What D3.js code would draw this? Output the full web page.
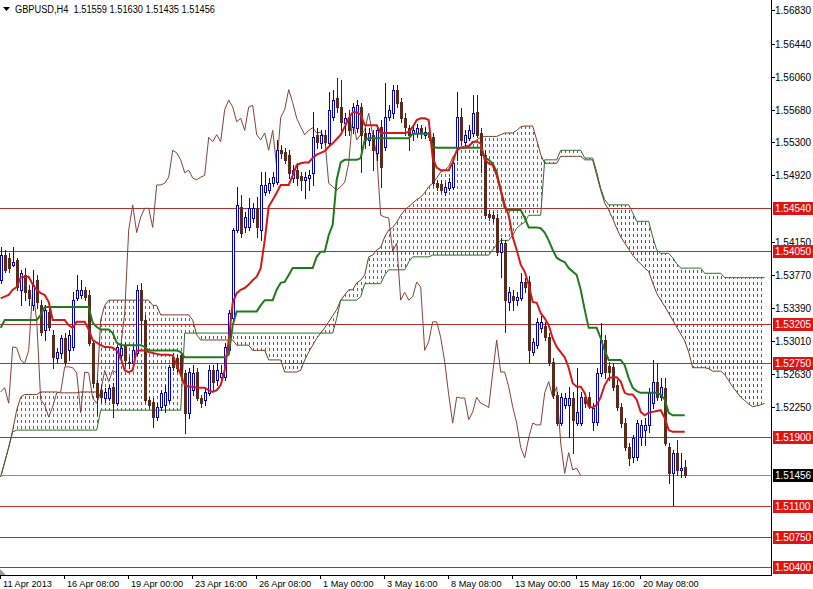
<!DOCTYPE html>
<html><head><meta charset="utf-8">
<script src="https://cdn.jsdelivr.net/npm/d3@7"></script>
<style>
body{margin:0;background:#fff;}
svg{display:block;}
text{font-family:"Liberation Sans",Arial,sans-serif;font-size:10px;}
</style>
</head><body>
<svg id="c" width="813" height="589"></svg>
<script>
const title = "GBPUSD,H4  1.51559 1.51630 1.51435 1.51456";
const dateLabels = ["11 Apr 2013","16 Apr 08:00","19 Apr 00:00","23 Apr 16:00","26 Apr 08:00","1 May 00:00","3 May 16:00","8 May 08:00","13 May 00:00","15 May 16:00","20 May 08:00"];
const dateTickBars = [0,16,32,48,64,80,96,112,128,144,160];
const priceTicks = [1.56830,1.56440,1.56060,1.55680,1.55300,1.54920,1.54150,1.53770,1.53390,1.53010,1.52630,1.52250];
const levels = [1.54540,1.54050,1.53205,1.52750,1.51900,1.51100,1.50750,1.50400];
const lastPrice = 1.51456;
// [open, high, low, close]
const candles = [
[1.5371,1.5409,1.5368,1.5400],[1.5400,1.5406,1.5381,1.5383],[1.5397,1.5402,1.5381,1.5385],[1.5389,1.5409,1.5387,1.5392],[1.5394,1.5397,1.5360,1.5363],
[1.5360,1.5383,1.5342,1.5379],[1.5377,1.5385,1.5348,1.5357],[1.5360,1.5366,1.5342,1.5350],[1.5342,1.5383,1.5337,1.5366],[1.5371,1.5377,1.5339,1.5346],
[1.5342,1.5348,1.5308,1.5311],[1.5314,1.5342,1.5302,1.5337],[1.5334,1.5342,1.5314,1.5317],[1.5308,1.5314,1.5270,1.5282],[1.5281,1.5293,1.5277,1.5288],
[1.5287,1.5308,1.5281,1.5304],[1.5304,1.5310,1.5273,1.5277],[1.5290,1.5314,1.5279,1.5308],[1.5294,1.5357,1.5290,1.5348],[1.5350,1.5377,1.5348,1.5360],
[1.5354,1.5371,1.5350,1.5360],[1.5360,1.5363,1.5348,1.5352],[1.5354,1.5360,1.5296,1.5299],[1.5299,1.5302,1.5248,1.5252],[1.5252,1.5256,1.5215,1.5236],
[1.5244,1.5250,1.5230,1.5236],[1.5235,1.5247,1.5230,1.5242],[1.5235,1.5250,1.5233,1.5247],[1.5248,1.5252,1.5213,1.5229],[1.5229,1.5296,1.5227,1.5294],
[1.5285,1.5299,1.5279,1.5293],[1.5296,1.5300,1.5273,1.5279],[1.5277,1.5282,1.5270,1.5275],[1.5275,1.5296,1.5272,1.5290],[1.5287,1.5366,1.5285,1.5360],
[1.5360,1.5368,1.5300,1.5325],[1.5325,1.5331,1.5230,1.5233],[1.5233,1.5236,1.5224,1.5227],[1.5230,1.5235,1.5202,1.5213],[1.5213,1.5229,1.5210,1.5225],
[1.5225,1.5244,1.5221,1.5241],[1.5227,1.5250,1.5219,1.5242],[1.5233,1.5273,1.5230,1.5271],[1.5282,1.5287,1.5267,1.5271],[1.5281,1.5285,1.5265,1.5270],
[1.5285,1.5288,1.5258,1.5264],[1.5264,1.5267,1.5195,1.5218],[1.5218,1.5270,1.5212,1.5265],[1.5244,1.5273,1.5239,1.5264],[1.5265,1.5270,1.5233,1.5235],
[1.5235,1.5239,1.5225,1.5229],[1.5233,1.5247,1.5227,1.5242],[1.5241,1.5273,1.5239,1.5267],[1.5267,1.5273,1.5244,1.5254],[1.5256,1.5275,1.5250,1.5267],
[1.5259,1.5273,1.5256,1.5264],[1.5259,1.5299,1.5256,1.5294],[1.5290,1.5337,1.5288,1.5333],[1.5327,1.5431,1.5325,1.5429],[1.5429,1.5479,1.5427,1.5458],
[1.5456,1.5469,1.5421,1.5426],[1.5432,1.5450,1.5427,1.5444],[1.5432,1.5466,1.5429,1.5454],[1.5443,1.5460,1.5438,1.5454],[1.5454,1.5467,1.5421,1.5432],
[1.5429,1.5496,1.5417,1.5481],[1.5473,1.5496,1.5469,1.5481],[1.5475,1.5489,1.5472,1.5483],[1.5483,1.5496,1.5480,1.5490],[1.5484,1.5533,1.5482,1.5521],
[1.5521,1.5527,1.5512,1.5518],[1.5519,1.5524,1.5506,1.5510],[1.5516,1.5521,1.5489,1.5495],[1.5489,1.5504,1.5484,1.5498],[1.5498,1.5506,1.5481,1.5489],
[1.5491,1.5496,1.5475,1.5487],[1.5487,1.5496,1.5466,1.5490],[1.5489,1.5498,1.5475,1.5492],[1.5495,1.5565,1.5481,1.5536],[1.5539,1.5547,1.5524,1.5531],
[1.5529,1.5544,1.5524,1.5539],[1.5539,1.5544,1.5527,1.5531],[1.5529,1.5588,1.5527,1.5568],[1.5559,1.5591,1.5556,1.5579],[1.5581,1.5604,1.5565,1.5571],
[1.5571,1.5602,1.5544,1.5554],[1.5553,1.5564,1.5539,1.5558],[1.5559,1.5568,1.5539,1.5544],[1.5548,1.5576,1.5541,1.5571],[1.5547,1.5579,1.5542,1.5573],
[1.5571,1.5576,1.5496,1.5539],[1.5541,1.5547,1.5524,1.5533],[1.5533,1.5547,1.5527,1.5541],[1.5539,1.5544,1.5498,1.5521],[1.5518,1.5550,1.5510,1.5544],
[1.5548,1.5556,1.5479,1.5502],[1.5525,1.5599,1.5521,1.5559],[1.5559,1.5573,1.5556,1.5568],[1.5564,1.5596,1.5558,1.5591],[1.5591,1.5596,1.5571,1.5576],
[1.5577,1.5581,1.5554,1.5558],[1.5558,1.5564,1.5539,1.5548],[1.5547,1.5550,1.5521,1.5539],[1.5541,1.5550,1.5533,1.5544],[1.5541,1.5551,1.5536,1.5547],
[1.5547,1.5550,1.5535,1.5541],[1.5539,1.5548,1.5535,1.5542],[1.5542,1.5547,1.5533,1.5536],[1.5536,1.5541,1.5481,1.5483],[1.5483,1.5487,1.5475,1.5479],
[1.5482,1.5487,1.5473,1.5475],[1.5473,1.5483,1.5469,1.5479],[1.5477,1.5489,1.5475,1.5484],[1.5479,1.5512,1.5476,1.5506],[1.5524,1.5588,1.5510,1.5559],
[1.5559,1.5570,1.5527,1.5533],[1.5531,1.5544,1.5527,1.5539],[1.5535,1.5550,1.5533,1.5544],[1.5541,1.5585,1.5537,1.5564],[1.5565,1.5585,1.5536,1.5539],
[1.5541,1.5547,1.5496,1.5516],[1.5516,1.5521,1.5443,1.5446],[1.5447,1.5452,1.5441,1.5444],[1.5446,1.5450,1.5438,1.5443],[1.5443,1.5447,1.5400,1.5404],
[1.5404,1.5420,1.5375,1.5414],[1.5414,1.5417,1.5311,1.5348],[1.5346,1.5363,1.5337,1.5357],[1.5353,1.5360,1.5337,1.5348],[1.5348,1.5357,1.5342,1.5352],
[1.5350,1.5379,1.5348,1.5369],[1.5369,1.5374,1.5357,1.5363],[1.5369,1.5376,1.5275,1.5290],[1.5288,1.5304,1.5285,1.5300],[1.5296,1.5327,1.5293,1.5323],
[1.5316,1.5330,1.5311,1.5323],[1.5318,1.5323,1.5302,1.5305],[1.5305,1.5310,1.5273,1.5277],[1.5277,1.5281,1.5235,1.5239],[1.5239,1.5242,1.5204,1.5206],
[1.5206,1.5241,1.5204,1.5236],[1.5227,1.5241,1.5224,1.5235],[1.5227,1.5248,1.5190,1.5235],[1.5235,1.5242,1.5172,1.5210],[1.5206,1.5270,1.5204,1.5219],
[1.5206,1.5242,1.5204,1.5236],[1.5236,1.5241,1.5225,1.5229],[1.5236,1.5242,1.5224,1.5227],[1.5207,1.5229,1.5198,1.5224],[1.5207,1.5270,1.5204,1.5264],
[1.5264,1.5322,1.5260,1.5302],[1.5302,1.5308,1.5258,1.5265],[1.5272,1.5277,1.5256,1.5265],[1.5271,1.5275,1.5244,1.5248],[1.5250,1.5256,1.5221,1.5225],
[1.5225,1.5229,1.5202,1.5206],[1.5206,1.5212,1.5175,1.5178],[1.5178,1.5183,1.5158,1.5166],[1.5167,1.5192,1.5161,1.5189],[1.5167,1.5210,1.5163,1.5206],
[1.5190,1.5210,1.5181,1.5204],[1.5198,1.5212,1.5181,1.5204],[1.5204,1.5247,1.5196,1.5241],[1.5229,1.5279,1.5224,1.5254],[1.5254,1.5275,1.5233,1.5236],
[1.5236,1.5258,1.5233,1.5248],[1.5247,1.5258,1.5181,1.5183],[1.5178,1.5183,1.5137,1.5148],[1.5148,1.5175,1.5112,1.5172],[1.5172,1.5187,1.5146,1.5152],
[1.5152,1.5172,1.5144,1.5154],[1.51559,1.51630,1.51435,1.51456]
];
const tenkan = [
1.5350,1.5352,1.5354,1.5360,1.5363,1.5374,1.5375,1.5375,1.5366,1.5360,
1.5356,1.5354,1.5346,1.5325,1.5325,1.5325,1.5325,1.5319,1.5316,1.5323,
1.5323,1.5323,1.5314,1.5302,1.5299,1.5296,1.5294,1.5294,1.5293,1.5290,
1.5281,1.5267,1.5265,1.5267,1.5290,1.5290,1.5290,1.5288,1.5287,1.5286,
1.5285,1.5285,1.5285,1.5284,1.5273,1.5262,1.5250,1.5248,1.5248,1.5247,
1.5247,1.5247,1.5244,1.5242,1.5244,1.5250,1.5267,1.5302,1.5345,1.5356,
1.5360,1.5362,1.5366,1.5371,1.5375,1.5385,1.5417,1.5456,1.5464,1.5472,
1.5481,1.5481,1.5481,1.5492,1.5504,1.5506,1.5507,1.5507,1.5512,1.5516,
1.5518,1.5520,1.5525,1.5529,1.5534,1.5539,1.5548,1.5558,1.5565,1.5565,
1.5562,1.5550,1.5550,1.5550,1.5550,1.5541,1.5541,1.5541,1.5541,1.5541,
1.5541,1.5541,1.5542,1.5548,1.5556,1.5558,1.5558,1.5556,1.5512,1.5501,
1.5498,1.5498,1.5498,1.5507,1.5521,1.5524,1.5524,1.5525,1.5531,1.5531,
1.5529,1.5510,1.5506,1.5504,1.5492,1.5475,1.5458,1.5446,1.5421,1.5406,
1.5389,1.5381,1.5366,1.5346,1.5345,1.5333,1.5327,1.5319,1.5304,1.5294,
1.5288,1.5282,1.5270,1.5252,1.5248,1.5248,1.5241,1.5225,1.5224,1.5227,
1.5236,1.5250,1.5258,1.5259,1.5259,1.5254,1.5241,1.5239,1.5239,1.5233,
1.5219,1.5215,1.5218,1.5219,1.5220,1.5221,1.5212,1.5198,1.5196,1.5196,
1.5196,1.5196
];
const kijun = [
1.5316,1.5325,1.5325,1.5325,1.5325,1.5325,1.5325,1.5325,1.5325,1.5325,
1.5331,1.5340,1.5340,1.5340,1.5340,1.5340,1.5340,1.5340,1.5340,1.5340,
1.5340,1.5340,1.5340,1.5322,1.5317,1.5314,1.5314,1.5314,1.5310,1.5299,
1.5296,1.5296,1.5296,1.5296,1.5296,1.5296,1.5294,1.5290,1.5290,1.5290,
1.5290,1.5290,1.5290,1.5290,1.5290,1.5288,1.5282,1.5282,1.5282,1.5282,
1.5282,1.5282,1.5282,1.5282,1.5282,1.5282,1.5282,1.5285,1.5319,1.5335,
1.5335,1.5335,1.5335,1.5335,1.5335,1.5342,1.5348,1.5348,1.5348,1.5360,
1.5368,1.5369,1.5377,1.5385,1.5385,1.5385,1.5385,1.5385,1.5385,1.5398,
1.5404,1.5404,1.5423,1.5435,1.5487,1.5507,1.5510,1.5510,1.5510,1.5510,
1.5512,1.5533,1.5535,1.5535,1.5535,1.5535,1.5535,1.5535,1.5535,1.5535,
1.5535,1.5535,1.5535,1.5540,1.5540,1.5540,1.5540,1.5540,1.5525,1.5524,
1.5524,1.5524,1.5524,1.5524,1.5524,1.5524,1.5524,1.5524,1.5524,1.5524,
1.5524,1.5513,1.5510,1.5506,1.5496,1.5475,1.5454,1.5452,1.5452,1.5452,
1.5452,1.5443,1.5432,1.5432,1.5432,1.5431,1.5426,1.5417,1.5406,1.5397,
1.5394,1.5392,1.5385,1.5381,1.5377,1.5360,1.5337,1.5316,1.5316,1.5316,
1.5304,1.5290,1.5279,1.5279,1.5279,1.5279,1.5273,1.5258,1.5247,1.5243,
1.5241,1.5241,1.5241,1.5241,1.5241,1.5239,1.5233,1.5218,1.5215,1.5215,
1.5215,1.5215
];
// Senkou spans at their displayed (shifted) bar positions
const spanA = [
1.5144,1.5161,1.5178,1.5198,1.5221,1.5236,1.5239,1.5239,1.5239,1.5239,
1.5242,1.5242,1.5242,1.5242,1.5242,1.5241,1.5241,1.5241,1.5241,1.5241,
1.5242,1.5242,1.5242,1.5242,1.5242,1.5325,1.5342,1.5348,1.5348,1.5348,
1.5348,1.5348,1.5348,1.5348,1.5348,1.5348,1.5348,1.5348,1.5342,1.5342,
1.5331,1.5331,1.5331,1.5331,1.5331,1.5331,1.5331,1.5331,1.5325,1.5308,
1.5302,1.5302,1.5302,1.5302,1.5302,1.5302,1.5302,1.5302,1.5302,1.5296,
1.5296,1.5296,1.5296,1.5290,1.5290,1.5290,1.5290,1.5279,1.5279,1.5279,
1.5279,1.5265,1.5265,1.5265,1.5265,1.5267,1.5279,1.5288,1.5296,1.5304,
1.5310,1.5316,1.5323,1.5330,1.5337,1.5348,1.5354,1.5360,1.5360,1.5368,
1.5371,1.5377,1.5398,1.5400,1.5406,1.5409,1.5421,1.5429,1.5432,1.5438,
1.5446,1.5452,1.5456,1.5460,1.5464,1.5467,1.5472,1.5479,1.5483,1.5489,
1.5496,1.5498,1.5502,1.5513,1.5519,1.5524,1.5526,1.5527,1.5529,1.5533,
1.5536,1.5537,1.5537,1.5537,1.5537,1.5539,1.5541,1.5541,1.5541,1.5544,
1.5548,1.5549,1.5549,1.5549,1.5533,1.5516,1.5506,1.5506,1.5506,1.5506,
1.5514,1.5514,1.5514,1.5514,1.5514,1.5514,1.5510,1.5510,1.5510,1.5492,
1.5475,1.5460,1.5452,1.5442,1.5431,1.5421,1.5414,1.5407,1.5400,1.5394,
1.5390,1.5385,1.5381,1.5368,1.5356,1.5348,1.5341,1.5333,1.5325,1.5317,
1.5309,1.5301,1.5288,1.5270,1.5270,1.5270,1.5270,1.5269,1.5266,1.5266,
1.5266,1.5262,1.5255,1.5248,1.5242,1.5236,1.5232,1.5228,1.5225,1.5226,
1.5227,1.5229
];
const spanB = [
1.5144,1.5161,1.5178,1.5196,1.5198,1.5198,1.5198,1.5198,1.5198,1.5198,
1.5198,1.5198,1.5198,1.5198,1.5198,1.5198,1.5198,1.5198,1.5198,1.5198,
1.5198,1.5198,1.5198,1.5198,1.5198,1.5221,1.5221,1.5221,1.5221,1.5221,
1.5221,1.5221,1.5221,1.5221,1.5221,1.5221,1.5221,1.5221,1.5221,1.5221,
1.5221,1.5221,1.5221,1.5221,1.5221,1.5221,1.5310,1.5310,1.5310,1.5310,
1.5310,1.5310,1.5310,1.5310,1.5310,1.5310,1.5310,1.5310,1.5310,1.5310,
1.5310,1.5310,1.5310,1.5310,1.5310,1.5310,1.5310,1.5310,1.5310,1.5310,
1.5310,1.5310,1.5310,1.5310,1.5310,1.5310,1.5310,1.5310,1.5310,1.5310,
1.5310,1.5310,1.5310,1.5310,1.5327,1.5348,1.5348,1.5348,1.5348,1.5348,
1.5352,1.5367,1.5367,1.5367,1.5367,1.5367,1.5377,1.5383,1.5383,1.5383,
1.5383,1.5383,1.5392,1.5398,1.5398,1.5398,1.5398,1.5398,1.5400,1.5400,
1.5400,1.5400,1.5400,1.5400,1.5400,1.5400,1.5400,1.5400,1.5400,1.5400,
1.5400,1.5400,1.5400,1.5406,1.5412,1.5417,1.5417,1.5417,1.5423,1.5431,
1.5435,1.5438,1.5446,1.5446,1.5446,1.5446,1.5510,1.5510,1.5510,1.5510,
1.5521,1.5521,1.5521,1.5521,1.5521,1.5521,1.5512,1.5512,1.5512,1.5496,
1.5477,1.5464,1.5458,1.5458,1.5458,1.5458,1.5458,1.5458,1.5449,1.5439,
1.5439,1.5439,1.5439,1.5421,1.5406,1.5402,1.5402,1.5402,1.5397,1.5390,
1.5385,1.5385,1.5385,1.5385,1.5385,1.5385,1.5379,1.5379,1.5379,1.5379,
1.5379,1.5374,1.5374,1.5374,1.5374,1.5374,1.5374,1.5374,1.5374,1.5374,
1.5374,1.5374
];
const chikouShift = 26;

const W = 813, H = 589, plotR = 771, plotB = 575;
const svg = d3.select("#c");
svg.append("rect").attr("width",W).attr("height",H).attr("fill","#fff");
const y = d3.scaleLinear().domain([1.50307,1.56945]).range([plotB,0]);
const x = d3.scaleLinear().domain([0,192]).range([0.7,768.7]);
const defs = svg.append("defs");
defs.append("clipPath").attr("id","plot").append("rect").attr("x",0).attr("y",0).attr("width",plotR).attr("height",plotB);
const pg = defs.append("pattern").attr("id","pg").attr("width",4).attr("height",6).attr("patternUnits","userSpaceOnUse");
pg.append("rect").attr("x",1).attr("y",0).attr("width",1).attr("height",3).attr("fill","#2f8a2f");
const pr = defs.append("pattern").attr("id","pr").attr("width",4).attr("height",6).attr("patternUnits","userSpaceOnUse");
pr.append("rect").attr("x",1).attr("y",0).attr("width",1).attr("height",3).attr("fill","#a83838");
const xi = (d,i)=>x(i);
defs.append("clipPath").attr("id","aboveB").append("path")
  .attr("d", d3.area().x(xi).y0(0).y1((d,i)=>y(spanB[i]))(spanB));
defs.append("clipPath").attr("id","belowB").append("path")
  .attr("d", d3.area().x(xi).y0(plotB).y1((d,i)=>y(spanB[i]))(spanB));

const g = svg.append("g").attr("clip-path","url(#plot)");
const cloud = d3.area().x(xi).y0((d,i)=>y(spanA[i])).y1((d,i)=>y(spanB[i]));
g.append("path").attr("d",cloud(spanA)).attr("fill","url(#pg)").attr("clip-path","url(#aboveB)");
g.append("path").attr("d",cloud(spanA)).attr("fill","url(#pr)").attr("clip-path","url(#belowB)");
const line = d3.line().x(xi).y(d=>y(d));
g.append("path").attr("d",line(spanA)).attr("fill","none").attr("stroke","#7a3a2a").attr("stroke-width",1);
g.append("path").attr("d",line(spanB)).attr("fill","none").attr("stroke","#2b6b2b").attr("stroke-width",1);

// horizontal levels
levels.forEach(l=>{
  const yy = Math.round(y(l))+0.5;
  g.append("line").attr("x1",0).attr("x2",plotR).attr("y1",yy).attr("y2",yy).attr("stroke","#b43030").attr("stroke-width",1);
});
{ const yy = Math.round(y(lastPrice))+0.5;
  g.append("line").attr("x1",0).attr("x2",plotR).attr("y1",yy).attr("y2",yy).attr("stroke","#8c8c8c").attr("stroke-width",1); }

// chikou span (closes shifted back)
const chik = candles.slice(chikouShift).map(c=>c[3]);
g.append("path").attr("d",line(chik)).attr("fill","none").attr("stroke","#85423c").attr("stroke-width",1);

// candles
const cg = g.append("g").attr("shape-rendering","crispEdges");
candles.forEach((c,i)=>{
  const [o,h,l,cl] = c;
  const cx = Math.round(x(i));
  const bull = cl >= o;
  const col = bull ? "#0000c8" : "#3a1c12";
  cg.append("line").attr("x1",cx+0.5).attr("x2",cx+0.5).attr("y1",Math.round(y(h))).attr("y2",Math.round(y(l))+1).attr("stroke",col);
  const yt = Math.round(y(Math.max(o,cl))), yb = Math.round(y(Math.min(o,cl)));
  if (bull) {
    cg.append("rect").attr("x",cx-0.5).attr("y",yt+0.5).attr("width",2).attr("height",Math.max(yb-yt,1)).attr("fill","#fff").attr("stroke",col);
  } else {
    cg.append("rect").attr("x",cx-1).attr("y",yt).attr("width",3).attr("height",Math.max(yb-yt,1)+1).attr("fill","#5a2a1a").attr("stroke","none");
  }
});

// tenkan / kijun
g.append("path").attr("d",line(kijun)).attr("fill","none").attr("stroke","#1f7a1f").attr("stroke-width",2);
g.append("path").attr("d",line(tenkan)).attr("fill","none").attr("stroke","#d41818").attr("stroke-width",2);

// axes frame
svg.append("line").attr("x1",plotR+0.5).attr("x2",plotR+0.5).attr("y1",0).attr("y2",plotB+1).attr("stroke","#000");
svg.append("line").attr("x1",0).attr("x2",plotR+1).attr("y1",plotB+0.5).attr("y2",plotB+0.5).attr("stroke","#000");
svg.append("path").attr("d","M0,569L6,575L0,575Z").attr("fill","#999");

// price ticks
const ax = svg.append("g");
priceTicks.forEach(p=>{
  const yy = Math.round(y(p))+0.5;
  ax.append("line").attr("x1",plotR).attr("x2",plotR+4).attr("y1",yy).attr("y2",yy).attr("stroke","#000");
  ax.append("text").attr("x",775).attr("y",yy+3.5).attr("fill","#000").text(p.toFixed(5));
});
// level labels
levels.forEach(l=>{
  const yy = Math.round(y(l))+0.5;
  ax.append("rect").attr("x",773).attr("y",yy-6.5).attr("width",40).attr("height",13).attr("fill","#e01414");
  ax.append("text").attr("x",775).attr("y",yy+3.5).attr("fill","#fff").text(l.toFixed(5));
});
{ const yy = Math.round(y(lastPrice))+0.5;
  ax.append("rect").attr("x",773).attr("y",yy-6.5).attr("width",40).attr("height",13).attr("fill","#000");
  ax.append("text").attr("x",775).attr("y",yy+3.5).attr("fill","#fff").text(lastPrice.toFixed(5)); }

// date ticks
dateTickBars.forEach((b,k)=>{
  const xx = Math.round(x(b)) - 0.5;
  ax.append("line").attr("x1",xx).attr("x2",xx).attr("y1",plotB).attr("y2",plotB+4).attr("stroke","#000");
  ax.append("text").attr("x",xx+2.5).attr("y",587).attr("fill","#000").style("font-size","9.2px").text(dateLabels[k]);
});

// header
svg.append("path").attr("d","M3,7L10,7L6.5,11Z").attr("fill","#000");
svg.append("text").attr("x",15).attr("y",13).attr("fill","#000").attr("xml:space","preserve").style("white-space","pre")
  .attr("textLength",200).attr("lengthAdjust","spacingAndGlyphs").text(title);
</script>
</body></html>
